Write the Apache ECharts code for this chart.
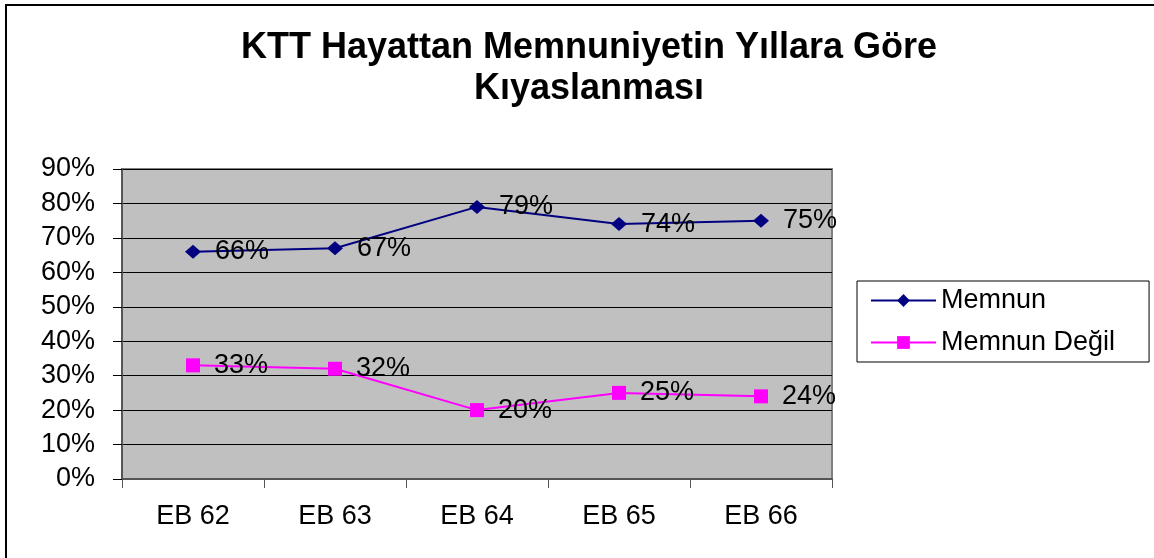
<!DOCTYPE html>
<html>

<head>
    <meta charset="utf-8">
    <title>KTT Hayattan Memnuniyet</title>
    <style>
        body { margin: 0; background: #fff; }
    </style>
</head>

<body>
    <div id="main" style="width: 1154px;height:558px;"></div>

    <script src="https://cdn.jsdelivr.net/npm/echarts@6/dist/echarts.min.js"></script>
    <script>
        // veriler
        var categories = ['EB 62', 'EB 63', 'EB 64', 'EB 65', 'EB 66'];
        var memnun = [66, 67, 79, 74, 75];
        var memnunDegil = [33, 32, 20, 25, 24];
        var yMin = 0, yMax = 90, yStep = 10;

        var font = 'Arial, "Liberation Sans", sans-serif';
        var myChart = echarts.init(document.getElementById('main'));

        var option = {
            backgroundColor: '#fff',
            animation: false,
            textStyle: { fontFamily: font },
            title: {
                text: 'KTT Hayattan Memnuniyetin Yıllara Göre\nKıyaslanması',
                left: 584,
                textAlign: 'center',
                top: 23,
                textStyle: {
                    fontFamily: font,
                    fontWeight: 'bold',
                    fontSize: 36,
                    lineHeight: 41,
                    color: '#000'
                }
            },
            graphic: [{
                type: 'rect',
                shape: { x: 6, y: 5, width: 1200, height: 600 },
                style: { fill: 'none', stroke: '#000', lineWidth: 2 },
                silent: true
            }],
            legend: {
                orient: 'vertical',
                left: 857,
                top: 281,
                padding: [6, 34, 6, 13],
                itemGap: 15,
                itemWidth: 65,
                itemHeight: 16,
                borderColor: '#000',
                borderWidth: 1,
                backgroundColor: '#fff',
                textStyle: { fontFamily: font, fontSize: 27, color: '#000' },
                data: ['Memnun', 'Memnun Değil']
            },
            grid: {
                left: 122,
                top: 169,
                right: 322,
                bottom: 79,
                show: true,
                backgroundColor: '#C0C0C0',
                borderColor: '#808080',
                borderWidth: 2
            },
            xAxis: {
                type: 'category',
                data: categories,
                boundaryGap: true,
                axisLine: { lineStyle: { color: '#555', width: 2 } },
                axisTick: { show: true, length: 9, lineStyle: { color: '#555' } },
                axisLabel: { fontSize: 27, color: '#000', margin: 24, fontFamily: font }
            },
            yAxis: {
                type: 'value',
                min: yMin,
                max: yMax,
                interval: yStep,
                axisLine: { show: true, lineStyle: { color: '#555', width: 2 } },
                axisTick: { show: true, length: 9, lineStyle: { color: '#000' } },
                axisLabel: { fontSize: 27, color: '#000', margin: 27, formatter: '{value}%', fontFamily: font },
                splitLine: { lineStyle: { color: '#000', width: 1 } }
            },
            series: [{
                name: 'Memnun',
                type: 'line',
                data: memnun,
                color: '#000080',
                symbol: 'diamond',
                symbolSize: [16, 14],
                lineStyle: { width: 2, color: '#000080' },
                itemStyle: { color: '#000080' },
                label: {
                    show: true,
                    position: 'right',
                    distance: 14,
                    formatter: '{c}%',
                    fontSize: 27,
                    color: '#000',
                    fontFamily: font
                }
            }, {
                name: 'Memnun Değil',
                type: 'line',
                data: memnunDegil,
                color: '#FF00FF',
                symbol: 'rect',
                symbolSize: 14,
                lineStyle: { width: 2, color: '#FF00FF' },
                itemStyle: { color: '#FF00FF' },
                label: {
                    show: true,
                    position: 'right',
                    distance: 14,
                    formatter: '{c}%',
                    fontSize: 27,
                    color: '#000',
                    fontFamily: font
                }
            }]
        };

        myChart.setOption(option);
    </script>
</body>

</html>
